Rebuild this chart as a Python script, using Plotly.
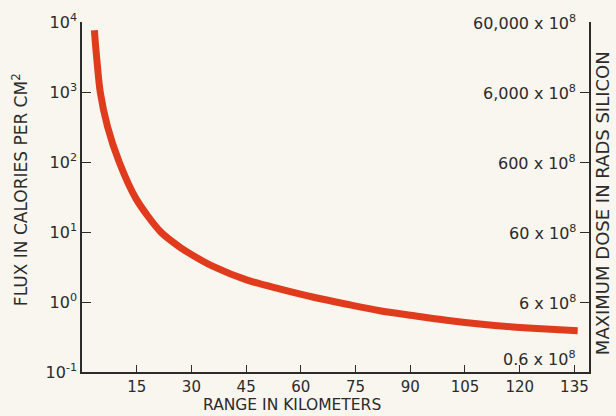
import math
import plotly.graph_objects as go

# Courbe (km, cal/cm2)
range_km = [3.4, 3.6, 4.1, 5.0, 7.0, 10.2, 14.8, 21.6, 27.0, 31.5, 36.1, 45.3,
            54.4, 63.5, 72.6, 81.7, 90.8, 99.9, 109.0, 118.1, 127.2, 135.9]
flux_cal = [7600, 5500, 2800, 1000, 320, 100, 30, 10, 6.0, 4.3, 3.2, 2.05,
            1.53, 1.17, 0.93, 0.75, 0.64, 0.55, 0.485, 0.44, 0.41, 0.39]

x_ticks = [15, 30, 45, 60, 75, 90, 105, 120, 135]
flux_ticks = [1e4, 1e3, 1e2, 1e1, 1e0, 1e-1]
flux_labels = ["10<sup>4</sup>", "10<sup>3</sup>", "10<sup>2</sup>",
               "10<sup>1</sup>", "10<sup>0</sup>", "10<sup>-1</sup>"]
dose_labels = ["60,000 x 10<sup>8</sup>", "6,000 x 10<sup>8</sup>",
               "600 x 10<sup>8</sup>", "60 x 10<sup>8</sup>",
               "6 x 10<sup>8</sup>", "0.6 x 10<sup>8</sup>"]

FONT = "DejaVu Sans"
INK = "#2b2b2b"
PAPER = "#f8f6ef"

fig = go.Figure()
fig.add_trace(go.Scatter(
    x=range_km, y=flux_cal, mode="lines",
    line=dict(color="#e03b1c", width=7, shape="spline", smoothing=0.8),
    showlegend=False, hoverinfo="skip"
))
# trace fantôme pour l'axe de droite
fig.add_trace(go.Scatter(
    x=[range_km[0]], y=[flux_cal[0]], yaxis="y2", mode="markers",
    marker=dict(opacity=0), showlegend=False, hoverinfo="skip"
))

axe = dict(ticks="inside", tickwidth=1.2, tickcolor=INK, showline=True,
           linecolor=INK, linewidth=1.5, showgrid=False, zeroline=False)

fig.update_layout(
    width=616, height=416, autosize=False,
    paper_bgcolor=PAPER, plot_bgcolor=PAPER,
    margin=dict(l=82, r=27, t=22, b=44),
    font=dict(family=FONT, color=INK, size=15),
    xaxis=dict(range=[0, 139], tickvals=x_ticks, ticklen=7,
               tickfont=dict(size=15), **axe),
    yaxis=dict(type="log", range=[-1, 4], tickvals=flux_ticks,
               ticktext=flux_labels, ticklen=9, tickfont=dict(size=16), **axe),
    yaxis2=dict(type="log", range=[-1, 4], overlaying="y", side="right",
                tickvals=flux_ticks[:5], ticklen=9, showticklabels=False,
                **axe),
)

# étiquettes de l'axe droit, à l'intérieur du cadre
for val, lab in zip(flux_ticks, dose_labels):
    y_log = math.log10(val)
    if val < 1:
        y_log += 0.2  # au-dessus de l'axe des x, comme sur l'original
    fig.add_annotation(text=lab, xref="paper", yref="y", x=0.978, y=y_log,
                       xanchor="right", yanchor="middle", showarrow=False,
                       font=dict(size=16))

fig.add_annotation(text="RANGE IN KILOMETERS", xref="paper", yref="paper",
                   x=0.414, y=-0.095, xanchor="center", yanchor="middle",
                   showarrow=False, font=dict(size=15.5))
fig.add_annotation(text="FLUX IN CALORIES PER CM<sup>2</sup>", xref="paper",
                   yref="paper", x=-0.122, y=0.52, textangle=-90,
                   xanchor="center", yanchor="middle", showarrow=False,
                   font=dict(size=17))
fig.add_annotation(text="MAXIMUM DOSE IN RADS SILICON", xref="paper",
                   yref="paper", x=1.028, y=0.483, textangle=-90,
                   xanchor="center", yanchor="middle", showarrow=False,
                   font=dict(size=18))

fig.write_html(
    "out.html",
    config={"displayModeBar": False},
    post_script="document.body.style.margin='0';"
                "document.body.style.background='" + PAPER + "';",
)
